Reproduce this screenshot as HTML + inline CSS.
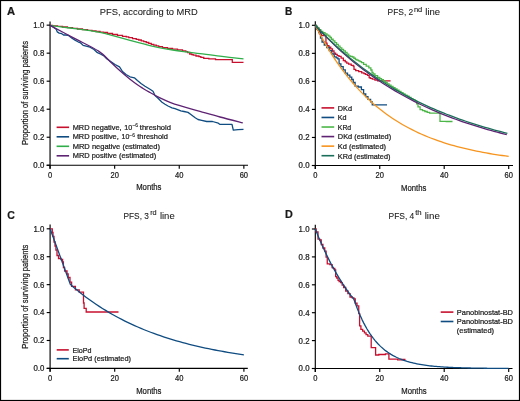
<!DOCTYPE html>
<html><head><meta charset="utf-8"><style>
html,body{margin:0;padding:0;background:#fff;}
svg{display:block;will-change:transform;}
text{font-family:"Liberation Sans", sans-serif;fill:#1a1a1a;stroke:#1a1a1a;stroke-width:0.22px;}
</style></head><body>
<svg width="520" height="401" viewBox="0 0 520 401">
<rect x="0" y="0" width="520" height="401" fill="#fff"/>
<rect x="0.5" y="0.5" width="519" height="400" fill="none" stroke="#000" stroke-width="1.2"/>
<text x="7.0" y="14.7" font-size="11.3" textLength="8.1" lengthAdjust="spacingAndGlyphs" font-weight="bold">A</text>
<text x="99.8" y="14.5" font-size="9.5" textLength="98" lengthAdjust="spacingAndGlyphs" style="stroke-width:0.08px">PFS, according to MRD</text>
<line x1="50.05" y1="21.5" x2="50.05" y2="168.65" stroke="#000" stroke-width="1.15"/>
<line x1="46.65" y1="165.25" x2="248" y2="165.25" stroke="#000" stroke-width="1.15"/>
<line x1="46.65" y1="165.25" x2="50.05" y2="165.25" stroke="#000" stroke-width="1.15"/>
<text x="44.25" y="168.15" font-size="8.2" text-anchor="end" textLength="10.9" lengthAdjust="spacingAndGlyphs">0.0</text>
<line x1="46.65" y1="137.23" x2="50.05" y2="137.23" stroke="#000" stroke-width="1.15"/>
<text x="44.25" y="140.13" font-size="8.2" text-anchor="end" textLength="10.9" lengthAdjust="spacingAndGlyphs">0.2</text>
<line x1="46.65" y1="109.21" x2="50.05" y2="109.21" stroke="#000" stroke-width="1.15"/>
<text x="44.25" y="112.11" font-size="8.2" text-anchor="end" textLength="10.9" lengthAdjust="spacingAndGlyphs">0.4</text>
<line x1="46.65" y1="81.19" x2="50.05" y2="81.19" stroke="#000" stroke-width="1.15"/>
<text x="44.25" y="84.09" font-size="8.2" text-anchor="end" textLength="10.9" lengthAdjust="spacingAndGlyphs">0.6</text>
<line x1="46.65" y1="53.17" x2="50.05" y2="53.17" stroke="#000" stroke-width="1.15"/>
<text x="44.25" y="56.07" font-size="8.2" text-anchor="end" textLength="10.9" lengthAdjust="spacingAndGlyphs">0.8</text>
<line x1="46.65" y1="25.15" x2="50.05" y2="25.15" stroke="#000" stroke-width="1.15"/>
<text x="44.25" y="28.05" font-size="8.2" text-anchor="end" textLength="10.9" lengthAdjust="spacingAndGlyphs">1.0</text>
<line x1="50.05" y1="165.25" x2="50.05" y2="168.65" stroke="#000" stroke-width="1.15"/>
<text x="50.05" y="177.65" font-size="8.4" text-anchor="middle" textLength="4.2" lengthAdjust="spacingAndGlyphs">0</text>
<line x1="114.65" y1="165.25" x2="114.65" y2="168.65" stroke="#000" stroke-width="1.15"/>
<text x="114.65" y="177.65" font-size="8.4" text-anchor="middle" textLength="8.4" lengthAdjust="spacingAndGlyphs">20</text>
<line x1="179.25" y1="165.25" x2="179.25" y2="168.65" stroke="#000" stroke-width="1.15"/>
<text x="179.25" y="177.65" font-size="8.4" text-anchor="middle" textLength="8.4" lengthAdjust="spacingAndGlyphs">40</text>
<line x1="243.85" y1="165.25" x2="243.85" y2="168.65" stroke="#000" stroke-width="1.15"/>
<text x="243.85" y="177.65" font-size="8.4" text-anchor="middle" textLength="8.4" lengthAdjust="spacingAndGlyphs">60</text>
<text x="136.2" y="190.45" font-size="9.2" textLength="25.3" lengthAdjust="spacingAndGlyphs">Months</text>
<text transform="translate(28,145) rotate(-90)" font-size="9.2" textLength="104" lengthAdjust="spacingAndGlyphs">Proportion of surviving patients</text>
<path d="M50.00,25.30 H52.50 V25.80 H55.00 H57.50 V26.40 H60.00 H62.50 V27.00 H65.00 H67.50 V27.70 H70.00 H72.50 V28.30 H75.00 H77.50 V29.00 H80.00 H82.50 V29.70 H85.00 H87.50 V30.40 H90.00 H92.00 V30.90 H94.00 H96.00 V31.50 H98.00 H100.00 V32.10 H102.00 H103.50 V32.50 H105.00 H107.50 V33.50 H110.00 H112.50 V34.50 H115.00 H117.50 V35.30 H120.00 H122.50 V36.30 H125.00 H126.25 V36.95 H127.50 H128.75 V37.60 H130.00 H132.50 V38.70 H135.00 H136.25 V39.35 H137.50 H138.75 V40.00 H140.00 H141.25 V40.80 H142.50 H143.75 V41.60 H145.00 H146.25 V42.50 H147.50 H148.75 V43.40 H150.00 H151.25 V44.30 H152.50 H153.75 V45.20 H155.00 H156.25 V45.90 H157.50 H158.75 V46.60 H160.00 H162.50 V47.60 H165.00 H167.50 V48.50 H170.00 H172.50 V49.20 H175.00 H177.50 V49.80 H180.00 H182.50 V50.90 H185.00 H185.85 V51.70 H186.70 H187.55 V52.50 H188.40 H189.70 V54.00 H191.00 H191.75 V54.60 H192.50 H193.25 V55.20 H194.00 H196.00 V56.00 H198.00 H198.95 V56.65 H199.90 H200.85 V57.30 H201.80 H203.75 V58.30 H205.70 H208.85 V58.90 H212.00 H215.50 V59.60 H219.00 L232.00,59.60 H232.30 V62.30 H232.60 L243.50,62.30" fill="none" stroke="#c8102e" stroke-width="1.3" stroke-linejoin="miter"/>
<path d="M50.00,25.40 C53.33,25.83 63.33,27.12 70.00,28.00 C76.67,28.88 85.00,29.97 90.00,30.70 C95.00,31.43 96.67,31.70 100.00,32.40 C103.33,33.10 105.00,33.57 110.00,34.90 C115.00,36.23 123.33,38.62 130.00,40.40 C136.67,42.18 143.33,44.08 150.00,45.60 C156.67,47.12 163.92,48.45 170.00,49.50 C176.08,50.55 181.50,51.22 186.50,51.90 C191.50,52.58 194.42,52.88 200.00,53.60 C205.58,54.32 212.75,55.33 220.00,56.20 C227.25,57.07 239.58,58.37 243.50,58.80" fill="none" stroke="#2fae49" stroke-width="1.3"/>
<path d="M50.00,25.30 L53.00,27.00 L56.20,29.20 L57.30,31.90 L59.20,33.10 L61.50,33.50 L63.50,35.00 L65.40,35.00 L68.50,35.40 L72.00,38.20 L75.40,40.40 L78.00,41.80 L80.00,42.60 L81.50,43.80 L83.10,45.40 L86.20,46.20 L90.00,47.20 L94.00,49.50 L96.90,52.30 L100.40,54.00 L104.00,56.00 L107.00,59.00 L110.00,61.00 L115.00,64.50 L119.50,66.80 L122.50,71.50 L126.00,74.50 L130.00,76.80 L134.40,77.80 L137.40,80.60 L141.00,83.50 L145.00,86.20 L150.00,89.20 L153.00,91.20 L155.00,95.50 L158.00,98.20 L162.00,102.20 L165.00,104.20 L168.00,106.00 L172.00,107.80 L175.00,108.60 L180.80,110.90 L184.00,111.50 L188.00,112.40 L190.90,114.50 L195.20,117.80 L198.00,119.50 L201.70,120.30 L206.70,121.50 L212.50,121.50 L218.30,123.20 L219.70,124.30 L232.00,124.30 L233.30,130.10 L238.00,129.70 L243.50,129.40" fill="none" stroke="#0f4c81" stroke-width="1.3" stroke-linejoin="round"/>
<path d="M50.00,25.40 C54.00,27.52 65.90,33.82 74.00,38.10 C82.10,42.38 92.60,47.22 98.60,51.10 C104.60,54.98 106.43,58.12 110.00,61.40 C113.57,64.68 116.67,67.83 120.00,70.80 C123.33,73.77 126.67,76.58 130.00,79.20 C133.33,81.82 136.67,84.28 140.00,86.50 C143.33,88.72 146.67,90.60 150.00,92.50 C153.33,94.40 156.67,96.27 160.00,97.90 C163.33,99.53 166.67,101.00 170.00,102.30 C173.33,103.60 175.00,104.18 180.00,105.70 C185.00,107.22 193.33,109.52 200.00,111.40 C206.67,113.28 212.87,115.08 220.00,117.00 C227.13,118.92 239.00,121.92 242.80,122.90" fill="none" stroke="#5f2374" stroke-width="1.3"/>
<line x1="56.6" y1="127.3" x2="69.1" y2="127.3" stroke="#c8102e" stroke-width="1.6"/>
<line x1="56.6" y1="136.8" x2="69.1" y2="136.8" stroke="#0f4c81" stroke-width="1.6"/>
<line x1="56.6" y1="146.3" x2="69.1" y2="146.3" stroke="#2fae49" stroke-width="1.6"/>
<line x1="56.6" y1="155.8" x2="69.1" y2="155.8" stroke="#5f2374" stroke-width="1.6"/>
<text x="72.7" y="129.7" font-size="7.6" textLength="48.9" lengthAdjust="spacingAndGlyphs">MRD negative,</text>
<text x="124.3" y="129.7" font-size="7.6" textLength="8.0" lengthAdjust="spacingAndGlyphs">10</text>
<text x="132.4" y="127.2" font-size="5.0" textLength="5.6" lengthAdjust="spacingAndGlyphs" style="stroke-width:0.12px">−6</text>
<text x="139.8" y="129.7" font-size="7.6" textLength="31.2" lengthAdjust="spacingAndGlyphs">threshold</text>
<text x="72.7" y="139.2" font-size="7.6" textLength="46.1" lengthAdjust="spacingAndGlyphs">MRD positive,</text>
<text x="121.6" y="139.2" font-size="7.6" textLength="7.8" lengthAdjust="spacingAndGlyphs">10</text>
<text x="129.3" y="136.7" font-size="5.0" textLength="5.6" lengthAdjust="spacingAndGlyphs" style="stroke-width:0.12px">−6</text>
<text x="137.2" y="139.2" font-size="7.6" textLength="30.7" lengthAdjust="spacingAndGlyphs">threshold</text>
<text x="72.7" y="148.7" font-size="7.6" textLength="87.3" lengthAdjust="spacingAndGlyphs">MRD negative (estimated)</text>
<text x="72.7" y="158.2" font-size="7.6" textLength="83.5" lengthAdjust="spacingAndGlyphs">MRD positive (estimated)</text>
<text x="284.9" y="14.5" font-size="11.3" textLength="7.3" lengthAdjust="spacingAndGlyphs" font-weight="bold">B</text>
<text x="387.6" y="14.7" font-size="9.5" textLength="25.6" lengthAdjust="spacingAndGlyphs" style="stroke-width:0.08px">PFS, 2</text>
<text x="413.9" y="12.1" font-size="6.8" textLength="8.3" lengthAdjust="spacingAndGlyphs" style="stroke-width:0.1px">nd</text>
<text x="425.3" y="14.8" font-size="9.3" textLength="14.9" lengthAdjust="spacingAndGlyphs" style="stroke-width:0.08px">line</text>
<line x1="315.3" y1="21.3" x2="315.3" y2="168.9" stroke="#000" stroke-width="1.15"/>
<line x1="311.9" y1="165.5" x2="513" y2="165.5" stroke="#000" stroke-width="1.15"/>
<line x1="311.9" y1="165.5" x2="315.3" y2="165.5" stroke="#000" stroke-width="1.15"/>
<text x="309.5" y="168.4" font-size="8.2" text-anchor="end" textLength="10.9" lengthAdjust="spacingAndGlyphs">0.0</text>
<line x1="311.9" y1="137.46" x2="315.3" y2="137.46" stroke="#000" stroke-width="1.15"/>
<text x="309.5" y="140.36" font-size="8.2" text-anchor="end" textLength="10.9" lengthAdjust="spacingAndGlyphs">0.2</text>
<line x1="311.9" y1="109.42" x2="315.3" y2="109.42" stroke="#000" stroke-width="1.15"/>
<text x="309.5" y="112.32" font-size="8.2" text-anchor="end" textLength="10.9" lengthAdjust="spacingAndGlyphs">0.4</text>
<line x1="311.9" y1="81.38" x2="315.3" y2="81.38" stroke="#000" stroke-width="1.15"/>
<text x="309.5" y="84.28" font-size="8.2" text-anchor="end" textLength="10.9" lengthAdjust="spacingAndGlyphs">0.6</text>
<line x1="311.9" y1="53.34" x2="315.3" y2="53.34" stroke="#000" stroke-width="1.15"/>
<text x="309.5" y="56.24" font-size="8.2" text-anchor="end" textLength="10.9" lengthAdjust="spacingAndGlyphs">0.8</text>
<line x1="311.9" y1="25.3" x2="315.3" y2="25.3" stroke="#000" stroke-width="1.15"/>
<text x="309.5" y="28.2" font-size="8.2" text-anchor="end" textLength="10.9" lengthAdjust="spacingAndGlyphs">1.0</text>
<line x1="315.3" y1="165.5" x2="315.3" y2="168.9" stroke="#000" stroke-width="1.15"/>
<text x="315.3" y="177.9" font-size="8.4" text-anchor="middle" textLength="4.2" lengthAdjust="spacingAndGlyphs">0</text>
<line x1="379.75" y1="165.5" x2="379.75" y2="168.9" stroke="#000" stroke-width="1.15"/>
<text x="379.75" y="177.9" font-size="8.4" text-anchor="middle" textLength="8.4" lengthAdjust="spacingAndGlyphs">20</text>
<line x1="444.2" y1="165.5" x2="444.2" y2="168.9" stroke="#000" stroke-width="1.15"/>
<text x="444.2" y="177.9" font-size="8.4" text-anchor="middle" textLength="8.4" lengthAdjust="spacingAndGlyphs">40</text>
<line x1="508.7" y1="165.5" x2="508.7" y2="168.9" stroke="#000" stroke-width="1.15"/>
<text x="508.7" y="177.9" font-size="8.4" text-anchor="middle" textLength="8.4" lengthAdjust="spacingAndGlyphs">60</text>
<text x="401.0" y="190.7" font-size="9.2" textLength="25.3" lengthAdjust="spacingAndGlyphs">Months</text>
<path d="M315.30,25.30 H316.15 V27.50 H317.00 H317.75 V30.00 H318.50 H319.50 V33.80 H320.50 H321.55 V35.70 H322.60 L325.80,35.70 H325.95 V43.20 H326.10 H327.05 V45.70 H328.00 H328.93 V47.25 H329.85 H330.77 V48.80 H331.70 H332.48 V51.00 H333.25 H334.02 V53.20 H334.80 H335.60 V54.45 H336.40 H337.20 V55.70 H338.00 H339.00 V56.40 H340.00 H341.10 V58.20 H342.20 H343.35 V60.50 H344.50 H345.25 V61.80 H346.00 H346.75 V63.10 H347.50 H348.60 V64.20 H349.70 H351.20 V65.30 H352.70 H353.25 V66.10 H353.80 H354.00 V69.40 H354.20 H355.70 V70.60 H357.20 H358.70 V71.70 H360.20 H361.70 V72.80 H363.20 H363.95 V73.55 H364.70 H365.45 V74.30 H366.20 H367.50 V75.40 H368.80 H369.15 V77.70 H369.50 H370.25 V78.30 H371.00 H372.30 V79.20 H373.60 H374.95 V80.10 H376.30 H377.60 V80.90 H378.90 L390.60,80.90" fill="none" stroke="#c8102e" stroke-width="1.3" stroke-linejoin="miter"/>
<path d="M315.30,25.30 H316.40 V29.00 H317.50 H318.70 V32.60 H319.90 H320.50 V38.20 H321.10 H322.05 V42.00 H323.00 H324.25 V45.00 H325.50 H326.75 V47.50 H328.00 H329.25 V50.70 H330.50 H331.75 V54.00 H333.00 H334.20 V56.90 H335.40 H336.20 V57.85 H337.00 H337.80 V58.80 H338.60 H339.10 V63.80 H339.60 H340.90 V66.60 H342.20 H343.20 V69.90 H344.20 H345.25 V73.20 H346.30 H347.50 V75.20 H348.70 H349.85 V77.20 H351.00 H351.75 V79.50 H352.50 H353.25 V82.50 H354.00 H355.10 V86.20 H356.20 H358.35 V87.00 H360.50 H361.40 V89.70 H362.30 H363.60 V94.00 H364.90 H365.75 V96.60 H366.60 H367.95 V99.30 H369.30 H370.60 V101.90 H371.90 H372.25 V104.80 H372.60 L387.00,104.80" fill="none" stroke="#0f4c81" stroke-width="1.3" stroke-linejoin="miter"/>
<path d="M315.30,25.30 H315.90 V26.10 H316.50 H317.37 V27.83 H318.23 H319.10 V29.57 H319.97 H320.83 V31.30 H321.70 H322.80 V32.65 H323.90 H325.00 V34.00 H326.10 H326.98 V35.05 H327.85 H328.73 V36.10 H329.60 H330.05 V37.50 H330.50 H331.37 V39.23 H332.23 H333.10 V40.97 H333.97 H334.83 V42.70 H335.70 H336.57 V44.43 H337.43 H338.30 V46.17 H339.17 H340.03 V47.90 H340.90 H341.78 V49.37 H342.67 H343.55 V50.83 H344.43 H345.32 V52.30 H346.20 H347.05 V54.05 H347.90 H348.75 V55.80 H349.60 H350.48 V56.40 H351.35 H352.23 V57.00 H353.10 H353.88 V58.25 H354.65 H355.42 V59.50 H356.20 H356.95 V60.15 H357.70 H358.45 V60.80 H359.20 H359.98 V61.70 H360.75 H361.52 V62.60 H362.30 H363.60 V64.40 H364.90 H366.20 V66.10 H367.50 H368.85 V67.90 H370.20 H370.85 V70.00 H371.50 H372.00 V72.50 H372.50 H373.05 V74.00 H373.60 H374.95 V75.70 H376.30 H377.60 V77.50 H378.90 H379.77 V78.55 H380.65 H381.52 V79.60 H382.40 H383.35 V81.00 H384.30 H385.25 V82.40 H386.20 H387.15 V83.80 H388.10 H389.05 V85.20 H390.00 H391.00 V86.46 H392.00 H393.00 V87.72 H394.00 H395.00 V88.98 H396.00 H397.00 V90.24 H398.00 H399.00 V91.50 H400.00 H401.00 V92.68 H402.00 H403.00 V93.86 H404.00 H405.00 V95.04 H406.00 H407.00 V96.22 H408.00 H409.00 V97.40 H410.00 H411.00 V98.53 H412.00 H413.00 V99.67 H414.00 H415.00 V100.80 H416.00 H416.60 V103.80 H417.20 H418.00 V106.80 H418.80 H420.10 V109.70 H421.40 H422.55 V110.60 H423.70 H424.85 V111.50 H426.00 H427.20 V112.35 H428.40 H429.60 V113.20 H430.80 L440.00,113.20 L440.00,121.40 H446.25 V121.50 H452.50" fill="none" stroke="#4cb748" stroke-width="1.3" stroke-linejoin="miter"/>
<path d="M315.30,25.30 L318.52,31.54 L321.75,37.49 L324.97,43.19 L328.19,48.63 L331.42,53.83 L334.64,58.79 L337.86,63.54 L341.09,68.08 L344.31,72.41 L347.53,76.55 L350.76,80.51 L353.98,84.29 L357.20,87.90 L360.43,91.35 L363.65,94.65 L366.87,97.80 L370.10,100.81 L373.32,103.69 L376.54,106.44 L379.77,109.07 L382.99,111.58 L386.21,113.97 L389.44,116.27 L392.66,118.46 L395.88,120.55 L399.11,122.55 L402.33,124.46 L405.55,126.28 L408.78,128.03 L412.00,129.70 L415.22,131.29 L418.45,132.81 L421.67,134.26 L424.89,135.65 L428.12,136.98 L431.34,138.25 L434.56,139.46 L437.79,140.62 L441.01,141.73 L444.23,142.78 L447.46,143.79 L450.68,144.76 L453.90,145.68 L457.13,146.56 L460.35,147.41 L463.57,148.21 L466.80,148.98 L470.02,149.71 L473.24,150.42 L476.47,151.09 L479.69,151.73 L482.91,152.34 L486.13,152.93 L489.36,153.49 L492.58,154.02 L495.80,154.53 L499.03,155.02 L502.25,155.49 L505.47,155.93 L508.70,156.36" fill="none" stroke="#f7941d" stroke-width="1.3" stroke-linejoin="round"/>
<path d="M315.30,25.30 L318.49,28.79 L321.68,32.19 L324.87,35.51 L328.06,38.75 L331.26,41.90 L334.45,44.98 L337.64,47.98 L340.83,50.90 L344.02,53.75 L347.21,56.54 L350.40,59.25 L353.59,61.89 L356.78,64.47 L359.97,66.99 L363.17,69.44 L366.36,71.83 L369.55,74.16 L372.74,76.43 L375.93,78.65 L379.12,80.81 L382.31,82.92 L385.50,84.98 L388.69,86.98 L391.89,88.93 L395.08,90.84 L398.27,92.70 L401.46,94.51 L404.65,96.28 L407.84,98.00 L411.03,99.68 L414.22,101.32 L417.41,102.92 L420.61,104.47 L423.80,105.99 L426.99,107.47 L430.18,108.92 L433.37,110.33 L436.56,111.70 L439.75,113.04 L442.94,114.35 L446.13,115.62 L449.32,116.86 L452.52,118.07 L455.71,119.25 L458.90,120.40 L462.09,121.52 L465.28,122.62 L468.47,123.69 L471.66,124.73 L474.85,125.74 L478.04,126.73 L481.24,127.70 L484.43,128.64 L487.62,129.56 L490.81,130.45 L494.00,131.32 L497.19,132.17 L500.38,133.00 L503.57,133.81 L506.76,134.60" fill="none" stroke="#5f2374" stroke-width="1.3" stroke-linejoin="round"/>
<path d="M315.30,25.30 L318.50,28.70 L321.70,32.01 L324.91,35.25 L328.11,38.41 L331.31,41.49 L334.51,44.49 L337.71,47.42 L340.91,50.29 L344.12,53.08 L347.32,55.80 L350.52,58.46 L353.72,61.06 L356.92,63.59 L360.13,66.06 L363.33,68.47 L366.53,70.82 L369.73,73.11 L372.93,75.35 L376.13,77.54 L379.34,79.67 L382.54,81.75 L385.74,83.78 L388.94,85.76 L392.14,87.69 L395.35,89.58 L398.55,91.42 L401.75,93.22 L404.95,94.97 L408.15,96.68 L411.35,98.34 L414.56,99.97 L417.76,101.56 L420.96,103.11 L424.16,104.62 L427.36,106.10 L430.57,107.54 L433.77,108.94 L436.97,110.31 L440.17,111.65 L443.37,112.96 L446.57,114.23 L449.78,115.47 L452.98,116.68 L456.18,117.87 L459.38,119.02 L462.58,120.15 L465.79,121.25 L468.99,122.32 L472.19,123.37 L475.39,124.39 L478.59,125.38 L481.79,126.36 L485.00,127.31 L488.20,128.23 L491.40,129.13 L494.60,130.02 L497.80,130.88 L501.01,131.71 L504.21,132.53 L507.41,133.33" fill="none" stroke="#1b6f5a" stroke-width="1.3" stroke-linejoin="round"/>
<line x1="321.5" y1="107.9" x2="334.2" y2="107.9" stroke="#c8102e" stroke-width="1.6"/>
<line x1="321.5" y1="117.46" x2="334.2" y2="117.46" stroke="#0f4c81" stroke-width="1.6"/>
<line x1="321.5" y1="127.02" x2="334.2" y2="127.02" stroke="#4cb748" stroke-width="1.6"/>
<line x1="321.5" y1="136.58" x2="334.2" y2="136.58" stroke="#5f2374" stroke-width="1.6"/>
<line x1="321.5" y1="146.14" x2="334.2" y2="146.14" stroke="#f7941d" stroke-width="1.6"/>
<line x1="321.5" y1="155.7" x2="334.2" y2="155.7" stroke="#1b6f5a" stroke-width="1.6"/>
<text x="337.8" y="110.7" font-size="7.6" textLength="14.2" lengthAdjust="spacingAndGlyphs">DKd</text>
<text x="337.8" y="120.26" font-size="7.6" textLength="8.8" lengthAdjust="spacingAndGlyphs">Kd</text>
<text x="337.8" y="129.82" font-size="7.6" textLength="13.4" lengthAdjust="spacingAndGlyphs">KRd</text>
<text x="337.8" y="139.38" font-size="7.6" textLength="53.4" lengthAdjust="spacingAndGlyphs">DKd (estimated)</text>
<text x="337.8" y="148.94" font-size="7.6" textLength="48.2" lengthAdjust="spacingAndGlyphs">Kd (estimated)</text>
<text x="337.8" y="158.5" font-size="7.6" textLength="52.6" lengthAdjust="spacingAndGlyphs">KRd (estimated)</text>
<text x="7.2" y="218.5" font-size="11.3" textLength="7.6" lengthAdjust="spacingAndGlyphs" font-weight="bold">C</text>
<text x="123.5" y="218.7" font-size="9.5" textLength="25.4" lengthAdjust="spacingAndGlyphs" style="stroke-width:0.08px">PFS, 3</text>
<text x="150.2" y="214.8" font-size="6.8" textLength="6.5" lengthAdjust="spacingAndGlyphs" style="stroke-width:0.1px">rd</text>
<text x="159.9" y="218.8" font-size="9.3" textLength="14.8" lengthAdjust="spacingAndGlyphs" style="stroke-width:0.08px">line</text>
<line x1="50.1" y1="224.5" x2="50.1" y2="371.8" stroke="#000" stroke-width="1.15"/>
<line x1="46.7" y1="368.4" x2="247.8" y2="368.4" stroke="#000" stroke-width="1.15"/>
<line x1="46.7" y1="368.4" x2="50.1" y2="368.4" stroke="#000" stroke-width="1.15"/>
<text x="44.3" y="371.3" font-size="8.2" text-anchor="end" textLength="10.9" lengthAdjust="spacingAndGlyphs">0.0</text>
<line x1="46.7" y1="340.48" x2="50.1" y2="340.48" stroke="#000" stroke-width="1.15"/>
<text x="44.3" y="343.38" font-size="8.2" text-anchor="end" textLength="10.9" lengthAdjust="spacingAndGlyphs">0.2</text>
<line x1="46.7" y1="312.56" x2="50.1" y2="312.56" stroke="#000" stroke-width="1.15"/>
<text x="44.3" y="315.46" font-size="8.2" text-anchor="end" textLength="10.9" lengthAdjust="spacingAndGlyphs">0.4</text>
<line x1="46.7" y1="284.64" x2="50.1" y2="284.64" stroke="#000" stroke-width="1.15"/>
<text x="44.3" y="287.54" font-size="8.2" text-anchor="end" textLength="10.9" lengthAdjust="spacingAndGlyphs">0.6</text>
<line x1="46.7" y1="256.72" x2="50.1" y2="256.72" stroke="#000" stroke-width="1.15"/>
<text x="44.3" y="259.62" font-size="8.2" text-anchor="end" textLength="10.9" lengthAdjust="spacingAndGlyphs">0.8</text>
<line x1="46.7" y1="228.8" x2="50.1" y2="228.8" stroke="#000" stroke-width="1.15"/>
<text x="44.3" y="231.7" font-size="8.2" text-anchor="end" textLength="10.9" lengthAdjust="spacingAndGlyphs">1.0</text>
<line x1="50.1" y1="368.4" x2="50.1" y2="371.8" stroke="#000" stroke-width="1.15"/>
<text x="50.1" y="380.8" font-size="8.4" text-anchor="middle" textLength="4.2" lengthAdjust="spacingAndGlyphs">0</text>
<line x1="114.7" y1="368.4" x2="114.7" y2="371.8" stroke="#000" stroke-width="1.15"/>
<text x="114.7" y="380.8" font-size="8.4" text-anchor="middle" textLength="8.4" lengthAdjust="spacingAndGlyphs">20</text>
<line x1="179.3" y1="368.4" x2="179.3" y2="371.8" stroke="#000" stroke-width="1.15"/>
<text x="179.3" y="380.8" font-size="8.4" text-anchor="middle" textLength="8.4" lengthAdjust="spacingAndGlyphs">40</text>
<line x1="243.9" y1="368.4" x2="243.9" y2="371.8" stroke="#000" stroke-width="1.15"/>
<text x="243.9" y="380.8" font-size="8.4" text-anchor="middle" textLength="8.4" lengthAdjust="spacingAndGlyphs">60</text>
<text x="136.2" y="393.6" font-size="9.2" textLength="25.3" lengthAdjust="spacingAndGlyphs">Months</text>
<text transform="translate(28,348.7) rotate(-90)" font-size="9.2" textLength="104" lengthAdjust="spacingAndGlyphs">Proportion of surviving patients</text>
<path d="M50.10,228.80 H52.30 V232.50 H53.00 V236.30 H54.00 V242.00 H55.00 V246.00 H55.90 V250.00 H57.00 V255.50 H58.50 V258.50 H61.00 V259.50 H62.60 V262.00 H63.40 V267.50 H64.60 V271.00 H67.00 V274.00 H68.20 V277.50 H70.00 V282.10 H71.60 V286.40 H75.40 V289.90 H79.20 V292.20 H83.50 V303.00 H84.10 V308.40 H86.20 V312.00 H118.50 V312.00" fill="none" stroke="#c8102e" stroke-width="1.3" stroke-linejoin="miter"/>
<path d="M50.10,228.80 L70.30,284.30 L73.50,287.15 L76.72,289.85 L79.93,292.45 L83.14,294.97 L86.36,297.41 L89.57,299.76 L92.79,302.04 L96.00,304.24 L99.22,306.37 L102.43,308.43 L105.65,310.42 L108.86,312.34 L112.08,314.20 L115.29,316.00 L118.51,317.74 L121.72,319.42 L124.94,321.05 L128.15,322.62 L131.37,324.14 L134.58,325.60 L137.80,327.02 L141.01,328.40 L144.22,329.73 L147.44,331.01 L150.65,332.25 L153.87,333.45 L157.08,334.61 L160.30,335.73 L163.51,336.81 L166.73,337.86 L169.94,338.87 L173.16,339.85 L176.37,340.80 L179.59,341.72 L182.80,342.60 L186.02,343.46 L189.23,344.29 L192.45,345.09 L195.66,345.86 L198.88,346.61 L202.09,347.33 L205.31,348.03 L208.52,348.71 L211.73,349.36 L214.95,349.99 L218.16,350.60 L221.38,351.19 L224.59,351.76 L227.81,352.32 L231.02,352.85 L234.24,353.36 L237.45,353.86 L240.67,354.35 L243.88,354.81" fill="none" stroke="#0f4c81" stroke-width="1.3" stroke-linejoin="round"/>
<line x1="56.7" y1="349.9" x2="68.8" y2="349.9" stroke="#c8102e" stroke-width="1.6"/>
<line x1="56.7" y1="358.7" x2="68.8" y2="358.7" stroke="#0f4c81" stroke-width="1.6"/>
<text x="72.5" y="352.5" font-size="7.6" textLength="19" lengthAdjust="spacingAndGlyphs">EloPd</text>
<text x="72.5" y="361.3" font-size="7.6" textLength="58.5" lengthAdjust="spacingAndGlyphs">EloPd (estimated)</text>
<text x="285.0" y="218.3" font-size="11.3" textLength="7.8" lengthAdjust="spacingAndGlyphs" font-weight="bold">D</text>
<text x="388.5" y="218.7" font-size="9.5" textLength="25.8" lengthAdjust="spacingAndGlyphs" style="stroke-width:0.08px">PFS, 4</text>
<text x="415.2" y="214.8" font-size="6.8" textLength="6.5" lengthAdjust="spacingAndGlyphs" style="stroke-width:0.1px">th</text>
<text x="424.7" y="218.8" font-size="9.3" textLength="15.2" lengthAdjust="spacingAndGlyphs" style="stroke-width:0.08px">line</text>
<line x1="315.3" y1="224.8" x2="315.3" y2="371.9" stroke="#000" stroke-width="1.15"/>
<line x1="311.9" y1="368.5" x2="512.5" y2="368.5" stroke="#000" stroke-width="1.15"/>
<line x1="311.9" y1="368.5" x2="315.3" y2="368.5" stroke="#000" stroke-width="1.15"/>
<text x="309.5" y="371.4" font-size="8.2" text-anchor="end" textLength="10.9" lengthAdjust="spacingAndGlyphs">0.0</text>
<line x1="311.9" y1="340.6" x2="315.3" y2="340.6" stroke="#000" stroke-width="1.15"/>
<text x="309.5" y="343.5" font-size="8.2" text-anchor="end" textLength="10.9" lengthAdjust="spacingAndGlyphs">0.2</text>
<line x1="311.9" y1="312.7" x2="315.3" y2="312.7" stroke="#000" stroke-width="1.15"/>
<text x="309.5" y="315.6" font-size="8.2" text-anchor="end" textLength="10.9" lengthAdjust="spacingAndGlyphs">0.4</text>
<line x1="311.9" y1="284.8" x2="315.3" y2="284.8" stroke="#000" stroke-width="1.15"/>
<text x="309.5" y="287.7" font-size="8.2" text-anchor="end" textLength="10.9" lengthAdjust="spacingAndGlyphs">0.6</text>
<line x1="311.9" y1="256.9" x2="315.3" y2="256.9" stroke="#000" stroke-width="1.15"/>
<text x="309.5" y="259.8" font-size="8.2" text-anchor="end" textLength="10.9" lengthAdjust="spacingAndGlyphs">0.8</text>
<line x1="311.9" y1="229.0" x2="315.3" y2="229.0" stroke="#000" stroke-width="1.15"/>
<text x="309.5" y="231.9" font-size="8.2" text-anchor="end" textLength="10.9" lengthAdjust="spacingAndGlyphs">1.0</text>
<line x1="315.3" y1="368.5" x2="315.3" y2="371.9" stroke="#000" stroke-width="1.15"/>
<text x="315.3" y="380.9" font-size="8.4" text-anchor="middle" textLength="4.2" lengthAdjust="spacingAndGlyphs">0</text>
<line x1="379.75" y1="368.5" x2="379.75" y2="371.9" stroke="#000" stroke-width="1.15"/>
<text x="379.75" y="380.9" font-size="8.4" text-anchor="middle" textLength="8.4" lengthAdjust="spacingAndGlyphs">20</text>
<line x1="444.2" y1="368.5" x2="444.2" y2="371.9" stroke="#000" stroke-width="1.15"/>
<text x="444.2" y="380.9" font-size="8.4" text-anchor="middle" textLength="8.4" lengthAdjust="spacingAndGlyphs">40</text>
<line x1="508.7" y1="368.5" x2="508.7" y2="371.9" stroke="#000" stroke-width="1.15"/>
<text x="508.7" y="380.9" font-size="8.4" text-anchor="middle" textLength="8.4" lengthAdjust="spacingAndGlyphs">60</text>
<text x="401.3" y="393.7" font-size="9.2" textLength="25.3" lengthAdjust="spacingAndGlyphs">Months</text>
<path d="M315.30,229.00 H316.15 V232.00 H317.00 H318.00 V239.20 H319.00 H319.75 V240.00 H320.50 H321.25 V244.50 H322.00 H322.90 V248.00 H323.80 H324.75 V251.20 H325.70 H326.10 V257.20 H326.50 H327.25 V263.90 H328.00 H329.85 V264.70 H331.70 H332.10 V267.70 H332.50 H333.25 V268.40 H334.00 H334.75 V270.00 H335.50 H335.65 V276.60 H335.80 H336.75 V278.00 H337.70 H338.05 V280.40 H338.40 H339.15 V281.50 H339.90 H340.65 V282.60 H341.40 H342.15 V285.05 H342.90 H343.65 V287.50 H344.40 H345.70 V291.00 H347.00 H347.85 V293.60 H348.70 H350.00 V297.00 H351.30 H352.18 V297.90 H353.05 H353.93 V298.80 H354.80 H355.25 V303.20 H355.70 H357.00 V305.80 H358.30 H358.75 V313.60 H359.20 H359.60 V325.80 H360.00 H360.90 V329.30 H361.80 H362.68 V331.05 H363.55 H364.43 V332.80 H365.30 H366.05 V334.60 H366.80 H367.80 V336.20 H368.80 L371.20,336.20 L371.20,347.70 L375.60,347.70 L375.60,355.00 H378.80 V354.50 H382.00 H385.45 V353.80 H388.90 L388.90,359.20 L397.30,359.20 H397.60 V359.90 H397.90 H401.70 V359.50 H405.50" fill="none" stroke="#c8102e" stroke-width="1.3" stroke-linejoin="miter"/>
<path d="M315.30,229.00 L316.91,233.03 L318.52,236.94 L320.13,240.74 L321.75,244.43 L323.36,248.01 L324.97,251.49 L326.58,254.87 L328.19,258.15 L329.80,261.34 L331.42,264.43 L333.03,267.43 L334.64,270.35 L336.25,273.19 L337.86,275.94 L339.47,278.61 L341.09,281.21 L342.70,283.73 L344.31,286.18 L345.92,288.55 L347.53,290.86 L349.14,293.10 L350.76,295.28 L352.37,297.39 L353.98,299.45 L355.59,304.05 L357.20,308.35 L358.81,312.36 L360.43,316.10 L362.04,319.60 L363.65,322.86 L365.26,325.90 L366.87,328.74 L368.48,331.39 L370.10,333.87 L371.71,336.17 L373.32,338.33 L374.93,340.34 L376.54,342.22 L378.15,343.97 L379.77,345.61 L381.38,347.13 L382.99,348.56 L384.60,349.89 L386.21,351.13 L387.82,352.29 L389.44,353.37 L391.05,354.38 L392.66,355.32 L394.27,356.20 L395.88,357.02 L397.49,357.78 L399.11,358.50 L400.72,359.16 L402.33,359.79 L403.94,360.37 L405.55,360.91 L407.16,361.42 L408.78,361.89 L410.39,362.33 L412.00,362.74 L413.61,363.12 L415.22,363.48 L416.83,363.82 L418.45,364.13 L420.06,364.42 L421.67,364.69 L423.28,364.95 L424.89,365.18 L426.50,365.40 L428.12,365.61 L429.73,365.80 L431.34,365.98 L432.95,366.15 L434.56,366.31 L436.17,366.45 L437.79,366.59 L439.40,366.72 L441.01,366.84 L442.62,366.95 L444.23,367.05 L445.84,367.15 L447.46,367.24 L449.07,367.32 L450.68,367.40 L452.29,367.47 L453.90,367.54 L455.51,367.61 L457.13,367.67 L458.74,367.72 L460.35,367.77 L461.96,367.82 L463.57,367.87 L465.18,367.91 L466.80,367.95 L468.41,367.99 L470.02,368.02 L471.63,368.05 L473.24,368.08 L474.85,368.11 L476.47,368.14 L478.08,368.16 L479.69,368.18 L481.30,368.20 L482.91,368.22 L484.52,368.24 L486.13,368.26 L487.75,368.28 L489.36,368.29 L490.97,368.30 L492.58,368.32 L494.19,368.33 L495.80,368.34 L497.42,368.35 L499.03,368.36 L500.64,368.37 L502.25,368.38 L503.86,368.39 L505.47,368.39 L507.09,368.40 L508.70,368.41" fill="none" stroke="#0f4c81" stroke-width="1.3" stroke-linejoin="round"/>
<line x1="440.7" y1="312.1" x2="453.4" y2="312.1" stroke="#c8102e" stroke-width="1.6"/>
<line x1="440.7" y1="321.5" x2="453.4" y2="321.5" stroke="#0f4c81" stroke-width="1.6"/>
<text x="456.8" y="314.6" font-size="7.6" textLength="56.2" lengthAdjust="spacingAndGlyphs">Panobinostat-BD</text>
<text x="456.8" y="324.1" font-size="7.6" textLength="56.2" lengthAdjust="spacingAndGlyphs">Panobinostat-BD</text>
<text x="456.8" y="333.0" font-size="7.6" textLength="37.2" lengthAdjust="spacingAndGlyphs">(estimated)</text>
</svg>
</body></html>
